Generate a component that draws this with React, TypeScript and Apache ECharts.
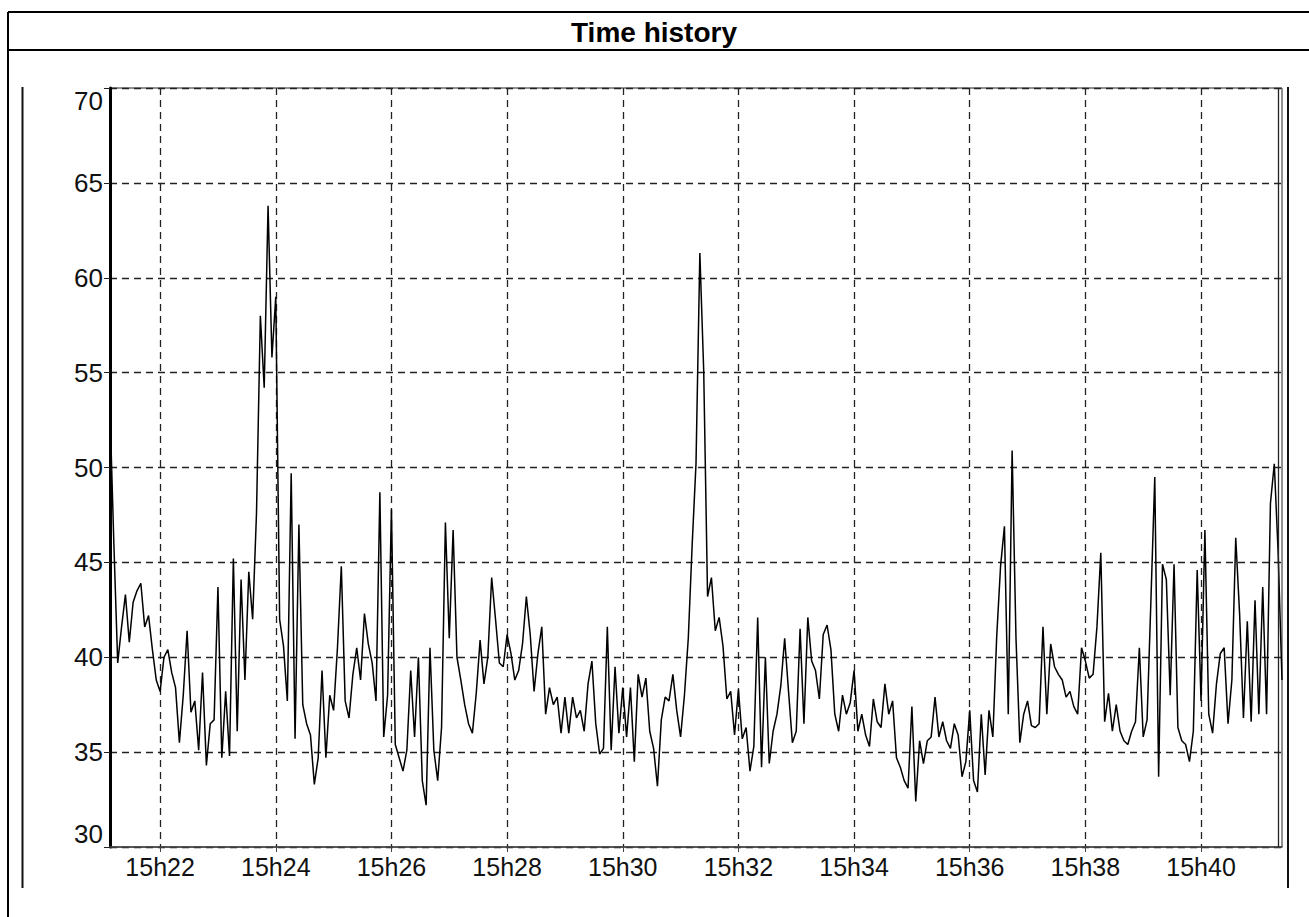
import React, { useEffect, useRef } from "react";
import * as echarts from "echarts";

// Sampling of the time history: one point every 4 s from 15h21:08
const START_SECONDS = 15 * 3600 + 21 * 60 + 8;
const STEP_SECONDS = 4;

const VALUES: number[] = [
  53.0, 46.0, 39.7, 41.6, 43.3, 40.8, 42.9, 43.5, 43.9, 41.6,
  42.2, 40.4, 38.8, 38.2, 40.0, 40.4, 39.2, 38.4, 35.5, 38.0,
  41.4, 37.1, 37.7, 35.1, 39.2, 34.3, 36.5, 36.7, 43.7, 34.7,
  38.2, 34.8, 45.2, 36.1, 44.1, 38.8, 44.5, 42.0, 47.6, 58.0,
  54.2, 63.8, 55.8, 59.0, 42.0, 40.6, 37.7, 49.7, 35.7, 47.0,
  37.5, 36.5, 35.9, 33.3, 34.7, 39.3, 34.7, 38.0, 37.2, 40.5,
  44.8, 37.7, 36.8, 39.1, 40.5, 38.8, 42.3, 40.7, 39.7, 37.7,
  48.7, 35.8, 38.0, 47.8, 35.4, 34.7, 34.0, 35.1, 39.3, 35.8,
  40.0, 33.5, 32.2, 40.5, 35.1, 33.5, 36.3, 47.1, 41.0, 46.7,
  40.0, 38.8, 37.5, 36.5, 36.0, 38.1, 40.9, 38.6, 40.0, 44.2,
  42.0, 39.7, 39.5, 41.2, 40.2, 38.8, 39.3, 40.7, 43.2, 41.2,
  38.2, 40.2, 41.6, 37.0, 38.4, 37.5, 37.9, 36.0, 37.9, 36.0,
  37.9, 36.8, 37.2, 36.1, 38.6, 39.8, 36.5, 34.9, 35.2, 41.6,
  35.1, 39.5, 36.0, 38.4, 35.8, 38.4, 34.5, 39.1, 37.9, 38.9,
  36.1, 35.2, 33.2, 36.7, 37.9, 37.7, 39.1, 37.2, 35.8, 38.0,
  41.0, 45.9, 50.2, 61.3, 55.1, 43.2, 44.2, 41.4, 42.1, 40.6,
  37.8, 38.2, 35.9, 38.3, 35.7, 36.3, 34.0, 35.3, 42.1, 34.2,
  40.0, 34.4, 36.1, 37.0, 38.5, 41.0, 38.2, 35.5, 36.1, 41.5,
  36.5, 42.1, 39.8, 39.3, 37.8, 41.2, 41.7, 40.4, 37.0, 36.1,
  38.0, 37.0, 37.6, 39.3, 36.1, 37.0, 35.9, 35.3, 37.8, 36.6,
  36.3, 38.6, 37.0, 37.7, 34.7, 34.2, 33.5, 33.1, 37.4, 32.4,
  35.6, 34.4, 35.6, 35.8, 37.9, 35.8, 36.6, 35.6, 35.2, 36.5,
  35.9, 33.7, 34.5, 37.2, 33.5, 32.9, 37.0, 33.8, 37.2, 35.8,
  41.1, 44.8, 46.9, 37.0, 50.9, 41.0, 35.5, 37.0, 37.7, 36.4,
  36.3, 36.5, 41.6, 37.0, 40.7, 39.5, 39.1, 38.8, 37.9, 38.2,
  37.4, 37.0, 40.5, 39.8, 38.9, 39.1, 41.6, 45.5, 36.6, 38.1,
  36.1, 37.5, 36.1, 35.6, 35.4, 36.1, 36.6, 40.5, 35.8, 36.7,
  43.0, 49.5, 33.7, 44.9, 44.1, 38.0, 44.9, 36.3, 35.6, 35.4,
  34.5, 36.1, 44.6, 37.7, 46.7, 37.0, 36.0, 38.6, 40.2, 40.5,
  36.5, 38.8, 46.3, 42.3, 36.8, 41.9, 36.6, 43.0, 37.0, 43.7,
  37.0, 48.1, 50.2, 45.5, 38.8,
];

const Y_TICKS = [30, 35, 40, 45, 50, 55, 60, 65, 70];
const TITLE = "Time history";
const CURSOR_INDEX = 303;

const pad = (n: number) => (n < 10 ? "0" + n : "" + n);
const TIMES: string[] = VALUES.map((_, i) => {
  const s = START_SECONDS + i * STEP_SECONDS;
  const h = Math.floor(s / 3600);
  const m = Math.floor((s % 3600) / 60);
  const sec = s % 60;
  return `${h}h${pad(m)}:${pad(sec)}`;
});
const isEvenMinute = (label: string) => {
  const [hm, sec] = label.split(":");
  const m = parseInt(hm.split("h")[1], 10);
  return sec === "00" && m % 2 === 0;
};

const FONT = "Liberation Sans, Arial, sans-serif";

export default function App() {
  const ref = useRef<HTMLDivElement>(null);
  useEffect(() => {
    if (!ref.current) return;
    const chart = echarts.init(ref.current, null, { renderer: "svg" });
    const showAt = (_: number, v: string) => isEvenMinute(v);
    chart.setOption({
      animation: false,
      backgroundColor: "#fff",
      textStyle: { fontFamily: FONT },
      grid: {
        left: 110,
        top: 88,
        right: 27,
        bottom: 70,
        show: true,
        borderColor: "#222",
        borderWidth: 1,
        backgroundColor: "transparent",
      },
      graphic: [
        { type: "line", shape: { x1: 8, y1: 12, x2: 1309, y2: 12 }, style: { stroke: "#000", lineWidth: 2 } },
        { type: "line", shape: { x1: 8, y1: 50, x2: 1309, y2: 50 }, style: { stroke: "#000", lineWidth: 2 } },
        { type: "line", shape: { x1: 8, y1: 12, x2: 8, y2: 917 }, style: { stroke: "#000", lineWidth: 2 } },
        { type: "line", shape: { x1: 22.5, y1: 87, x2: 22.5, y2: 888 }, style: { stroke: "#111", lineWidth: 2 } },
        { type: "line", shape: { x1: 1288, y1: 87, x2: 1288, y2: 888 }, style: { stroke: "#111", lineWidth: 2 } },
        {
          type: "text",
          x: 654,
          y: 32,
          style: {
            text: TITLE,
            fill: "#000",
            font: "bold 28px 'Liberation Sans', Arial, sans-serif",
            textAlign: "center",
            textVerticalAlign: "middle",
          },
        },
      ],
      xAxis: {
        type: "category",
        data: TIMES,
        boundaryGap: false,
        axisLine: { show: true, lineStyle: { color: "#444", width: 1.5 } },
        axisTick: { show: true, interval: showAt, length: 5, lineStyle: { color: "#444" } },
        axisLabel: {
          interval: showAt,
          formatter: (v: string) => v.split(":")[0],
          color: "#111",
          fontSize: 25,
          margin: 7,
          fontFamily: FONT,
        },
        splitLine: {
          show: true,
          interval: showAt,
          lineStyle: { color: "#222", type: [7, 5], width: 1.3 },
        },
      },
      yAxis: {
        type: "value",
        min: Y_TICKS[0],
        max: Y_TICKS[Y_TICKS.length - 1],
        interval: 5,
        axisLine: { show: true, lineStyle: { color: "#000", width: 3 } },
        axisTick: { show: true, length: 6, lineStyle: { color: "#222" } },
        axisLabel: {
          color: "#111",
          fontSize: 26,
          margin: 7,
          fontFamily: FONT,
          verticalAlignMinLabel: "bottom",
          verticalAlignMaxLabel: "top",
        },
        splitLine: {
          show: true,
          lineStyle: { color: "#222", type: [7, 5], width: 1.3 },
        },
      },
      series: [
        {
          type: "line",
          data: VALUES,
          showSymbol: false,
          symbol: "none",
          lineStyle: { color: "#000", width: 1.5 },
          markLine: {
            silent: true,
            symbol: ["none", "none"],
            label: { show: false },
            lineStyle: { color: "#222", type: "solid", width: 1.3 },
            data: [{ xAxis: TIMES[CURSOR_INDEX] }],
          },
        },
      ],
    });
    return () => chart.dispose();
  }, []);
  return (
    <div
      ref={ref}
      style={{ position: "fixed", left: 0, top: 0, width: 1309, height: 917 }}
    />
  );
}
